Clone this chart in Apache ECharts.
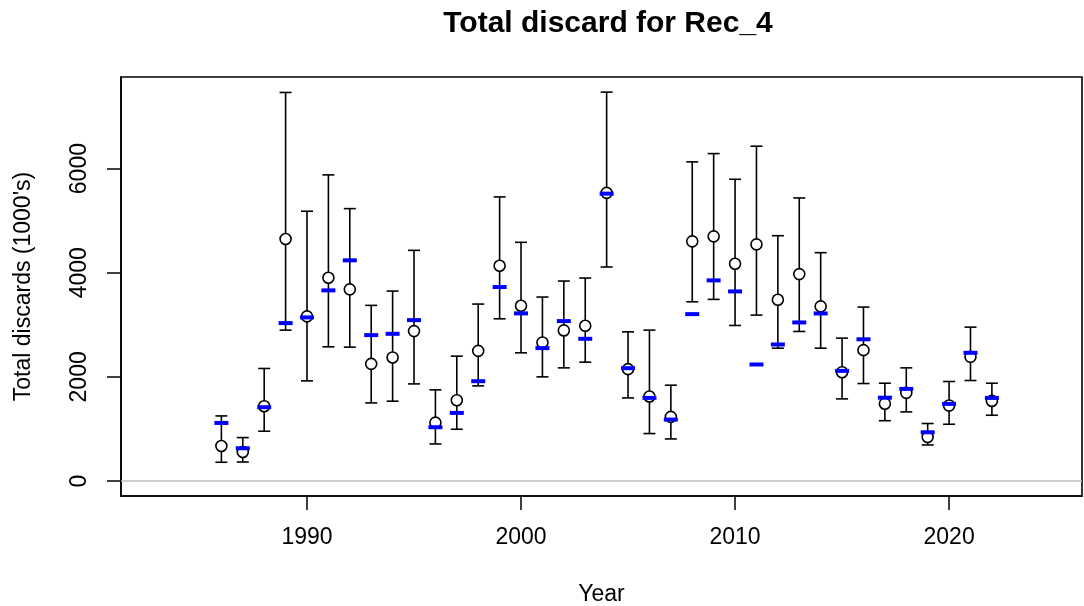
<!DOCTYPE html>
<html>
<head>
<meta charset="utf-8">
<script src="https://cdn.jsdelivr.net/npm/echarts@6/dist/echarts.min.js"></script>
<style>
html,body{margin:0;padding:0;background:#fff;}
#chart{width:1084px;height:606px;}
</style>
</head>
<body>
<div id="chart"></div>
<script>
const years = [1986,1987,1988,1989,1990,1991,1992,1993,1994,1995,1996,1997,1998,1999,2000,2001,2002,2003,2004,2005,2006,2007,2008,2009,2010,2011,2012,2013,2014,2015,2016,2017,2018,2019,2020,2021,2022];
const observed = [673,558,1437,4648,3161,3904,3681,2250,2373,2879,1122,1552,2500,4135,3365,2661,2892,2981,5533,2148,1623,1231,4603,4699,4173,4545,3481,3974,3353,2090,2513,1485,1692,846,1449,2385,1538];
const expected = [1115,629,1417,3033,3142,3661,4238,2802,2827,3090,1033,1308,1917,3725,3219,2552,3071,2731,5519,2167,1596,1180,3205,3853,3641,2238,2622,3045,3218,2115,2722,1600,1769,936,1481,2462,1596];
const lower = [360,365,956,2898,1923,2577,2571,1500,1533,1865,712,994,1827,3115,2462,2000,2173,2283,4110,1596,911,808,3442,3488,2987,3186,2551,2872,2551,1577,1872,1158,1327,692,1090,1930,1263];
const upper = [1250,834,2161,7462,5181,5879,5231,3373,3648,4430,1750,2398,3398,5456,4584,3533,3840,3898,7469,2865,2898,1840,6129,6288,5795,6430,4711,5436,4385,2744,3340,1878,2173,1104,1911,2955,1878];
const xTicks = [1990,2000,2010,2020];
const yTicks = [0,2000,4000,6000];

const FONT = '"Liberation Sans", Arial, sans-serif';
const chart = echarts.init(document.getElementById('chart'), null, {renderer:'canvas'});

const errData = years.map((y,i)=>[y, lower[i], upper[i]]);
const obsData = years.map((y,i)=>[y, observed[i]]);
const expData = years.map((y,i)=>[y, expected[i]]);
const plain = v => String(v);

const option = {
  animation: false,
  backgroundColor: '#fff',
  title: {
    text: 'Total discard for Rec_4',
    left: 603,
    top: 4,
    textAlign: 'center',
    textStyle: {fontFamily: FONT, fontSize: 30, fontWeight: 'bold', color: '#000'}
  },
  grid: {
    left: 121, right: 2, top: 77, bottom: 110,
    outerBoundsMode: 'none',
    containLabel: false,
    show: true, borderColor: '#000', borderWidth: 1.6, backgroundColor: 'transparent'
  },
  xAxis: {
    type: 'value',
    min: 1981.31, max: 2026.21,
    splitLine: {show: false},
    axisLine: {show: true, onZero: false, lineStyle: {color: '#000', width: 1.6}},
    axisTick: {show: true, length: 14, inside: false, customValues: xTicks, lineStyle: {color: '#000', width: 1.5}},
    axisLabel: {show: true, customValues: xTicks, formatter: plain, margin: 30, fontFamily: FONT, fontSize: 23, color: '#000'},
    name: 'Year',
    nameLocation: 'middle',
    nameGap: 87,
    nameTextStyle: {fontFamily: FONT, fontSize: 23, color: '#000'}
  },
  yAxis: {
    type: 'value',
    min: -288, max: 7759,
    splitLine: {show: false},
    axisLine: {show: true, onZero: false, lineStyle: {color: '#000', width: 1.6}},
    axisTick: {show: true, length: 14, inside: false, customValues: yTicks, lineStyle: {color: '#000', width: 1.5}},
    axisLabel: {show: true, customValues: yTicks, formatter: plain, rotate: 90, margin: 30, fontFamily: FONT, fontSize: 23, color: '#000'},
    name: "Total discards (1000's)",
    nameLocation: 'middle',
    nameGap: 86,
    nameTextStyle: {fontFamily: FONT, fontSize: 23, color: '#000'}
  },
  series: [
    {
      type: 'custom',
      name: 'interval',
      data: errData,
      z: 2,
      silent: true,
      renderItem: function(params, api){
        const x = api.value(0);
        const lo = api.coord([x, api.value(1)]);
        const hi = api.coord([x, api.value(2)]);
        const hw = 6;
        const style = {stroke: '#000', lineWidth: 1.6};
        return {
          type: 'group',
          children: [
            {type: 'line', shape: {x1: lo[0], y1: lo[1], x2: hi[0], y2: hi[1]}, style: style},
            {type: 'line', shape: {x1: lo[0]-hw, y1: lo[1], x2: lo[0]+hw, y2: lo[1]}, style: style},
            {type: 'line', shape: {x1: hi[0]-hw, y1: hi[1], x2: hi[0]+hw, y2: hi[1]}, style: style}
          ]
        };
      },
      markLine: {
        silent: true,
        symbol: ['none','none'],
        label: {show: false},
        lineStyle: {color: '#bebebe', width: 1.5, type: 'solid'},
        data: [{yAxis: 0}]
      }
    },
    {
      type: 'scatter',
      name: 'observed',
      data: obsData,
      z: 3,
      symbol: 'circle',
      symbolSize: 11,
      itemStyle: {color: '#fff', borderColor: '#000', borderWidth: 1.6, opacity: 1}
    },
    {
      type: 'scatter',
      name: 'expected',
      data: expData,
      z: 4,
      symbol: 'rect',
      symbolSize: [14, 4],
      itemStyle: {color: '#0000ff', opacity: 1}
    }
  ]
};
chart.setOption(option);
</script>
</body>
</html>
